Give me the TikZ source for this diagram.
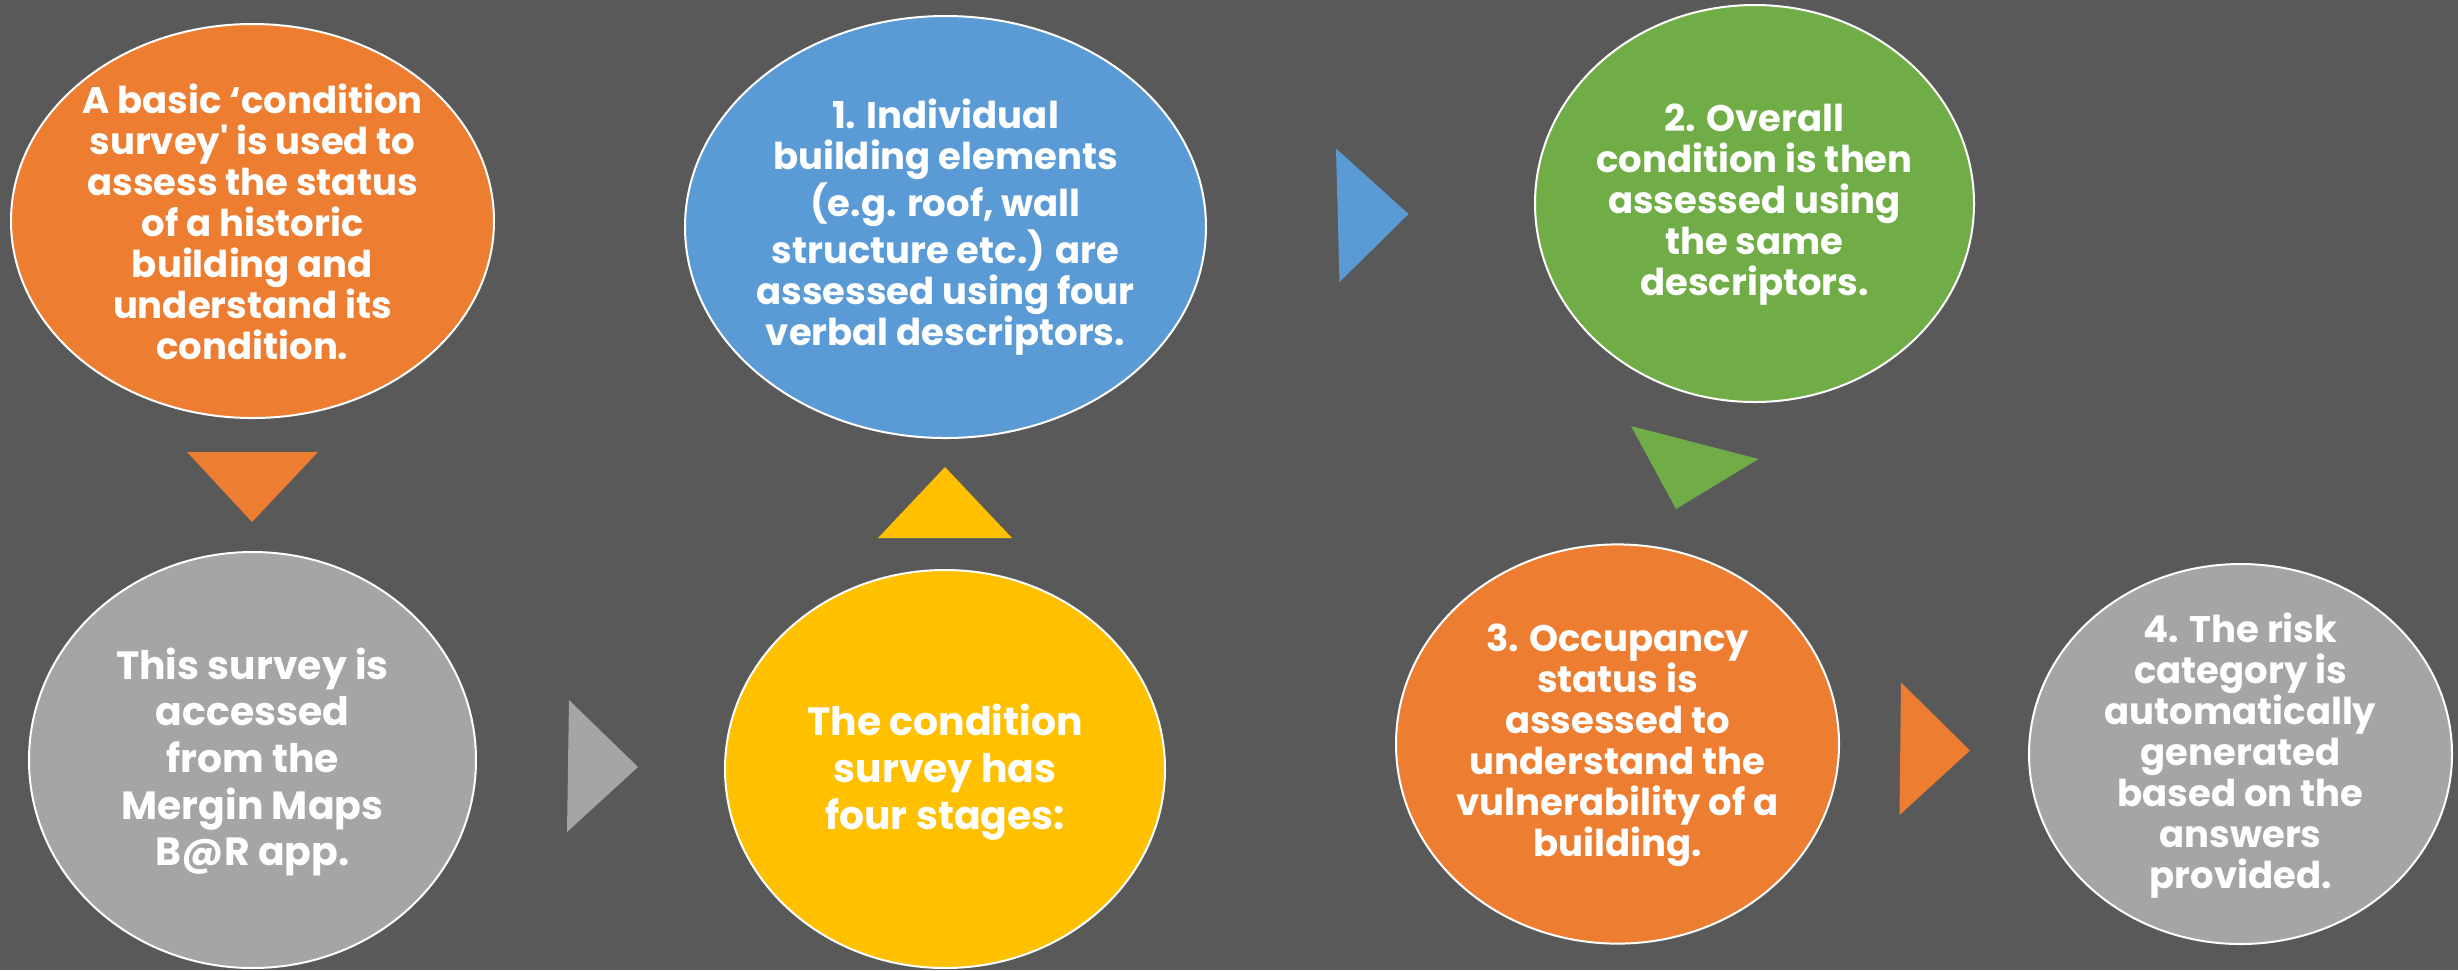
\documentclass[tikz,border=0pt]{standalone}
\usepackage{fontspec}
\setmainfont{Poppins}
\definecolor{bgGray}{RGB}{89,89,89}
\definecolor{cOrange}{RGB}{237,125,49}
\definecolor{cBlue}{RGB}{91,155,213}
\definecolor{cGray}{RGB}{165,165,165}
\definecolor{cYellow}{RGB}{255,192,0}
\definecolor{cGreen}{RGB}{112,173,71}
\tikzset{
bubble/.style={draw=white, line width=0.6pt},
txt/.style={text=white, align=center, inner sep=0pt, font=\bfseries},
fsmall/.style={font=\fontsize{11.1}{12.3}\selectfont\bfseries},
fbig/.style={font=\fontsize{11.8}{14}\selectfont\bfseries}}
\tikzset{every picture/.style={line width=0.75pt}}

\begin{document}
\begin{tikzpicture}[x=0.3pt,y=0.3pt,yscale=-1,xscale=1]
%Shape: Rectangle [background]
\path [fill=bgGray] (0,0) rectangle (2458,970);

%Shape: Ellipse [survey]
\draw [bubble, fill=cOrange] (252.5,221) ellipse (241.5 and 197);
%Shape: Ellipse [access]
\draw [bubble, fill=cGray] (252.5,760) ellipse (223.5 and 208);
%Shape: Ellipse [stages]
\draw [bubble, fill=cYellow] (945,769) ellipse (220 and 199);
%Shape: Ellipse [elements]
\draw [bubble, fill=cBlue] (945.5,227) ellipse (260.5 and 211);
%Shape: Ellipse [overall]
\draw [bubble, fill=cGreen] (1754.5,203.5) ellipse (219.5 and 198.5);
%Shape: Ellipse [occupancy]
\draw [bubble, fill=cOrange] (1617.5,744) ellipse (221.5 and 199.6);
%Shape: Ellipse [risk]
\draw [bubble, fill=cGray] (2240.5,754) ellipse (211.5 and 190);

%Shape: Triangle
\fill [cOrange] (187,452) -- (318,452) -- (252,522) -- cycle ;
%Shape: Triangle
\fill [cGray] (569,700) -- (638,767) -- (567,832) -- cycle ;
%Shape: Triangle
\fill [cYellow] (878,538) -- (1012,538) -- (945,467) -- cycle ;
%Shape: Triangle
\fill [cBlue] (1336,148.5) -- (1408.5,214) -- (1339.5,282) -- cycle ;
%Shape: Triangle
\fill [cGreen] (1631,426) -- (1758.5,459) -- (1676,509) -- cycle ;
%Shape: Triangle
\fill [cOrange] (1901,682.5) -- (1970,750.5) -- (1899.5,815) -- cycle ;

% Text Node
\draw (252.5,222) node [txt, fsmall] (survey) {A basic ‘condition\\survey\textquotesingle{} is used to\\assess the status\\of a historic\\building and\\understand its\\condition.};
% Text Node
\draw (252.5,762) node [txt, fbig] (access) {This survey is\\accessed\\from the\\Mergin Maps\\B@R app.};
% Text Node
\draw (945,772) node [txt, fbig] (stages) {The condition\\survey has\\four stages:};
% Text Node
\draw (945.5,227) node [txt, fsmall] (elements) {1. Individual\\building elements\\(e.g. roof, wall\\structure etc.) are\\assessed using four\\verbal descriptors.};
% Text Node
\draw (1754.5,205) node [txt, fsmall] (overall) {2. Overall\\condition is then\\assessed using\\the same\\descriptors.};
% Text Node
\draw (1617.5,745) node [txt, fsmall] (occupancy) {3. Occupancy\\status is\\assessed to\\understand the\\vulnerability of a\\building.};
% Text Node
\draw (2240.5,756) node [txt, fsmall] (risk) {4. The risk\\category is\\automatically\\generated\\based on the\\answers\\provided.};

\end{tikzpicture}
\end{document}
